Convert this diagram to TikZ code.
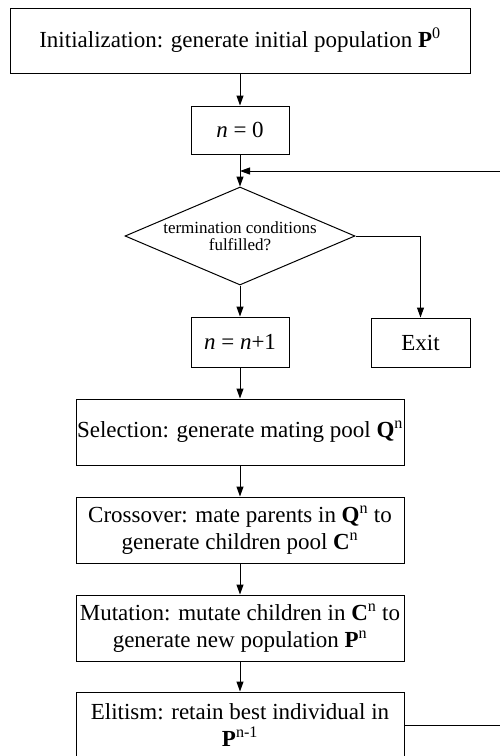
\documentclass[tikz,border=0pt]{standalone}
\usepackage{fontspec}
\setmainfont{Liberation Serif}
\usepackage{tikz}
\usetikzlibrary{arrows.meta,positioning,shapes.geometric}

\begin{document}
\begin{tikzpicture}[x=1pt,y=-1pt,
  box/.style={rectangle,draw,line width=1pt,inner sep=0pt,align=center,
    font=\fontsize{23}{27}\selectfont},
  cond/.style={diamond,draw,line width=1pt,inner sep=-1pt,shape aspect=2.35,
    minimum width=230pt,minimum height=98pt,align=center,
    font=\fontsize{17}{17}\selectfont},
  arr/.style={-{Triangle[length=10pt,width=7pt]},line width=1pt}]
  \useasboundingbox (0,0) rectangle (500,756);
  \clip (0,0) rectangle (500,756);
  \node[box,minimum width=460pt,minimum height=65pt] (init) at (240,40.5)
    {Initialization: generate initial population \textbf{P}\textsuperscript{0}};
  \node[box,minimum width=98pt,minimum height=48pt] (n0) at (240,130)
    {\textit{n} = 0};
  \node[cond] (term) at (240,236) {termination conditions\\fulfilled?};
  \node[box,minimum width=98pt,minimum height=50pt] (inc) at (240,342)
    {\textit{n} = \textit{n}+1};
  \node[box,minimum width=99pt,minimum height=49pt] (exit) at (420.5,342.5) {Exit};
  \node[box,minimum width=328pt,minimum height=66pt] (sel) at (240,432)
    {Selection: generate mating pool \textbf{Q}\textsuperscript{n}};
  \node[box,minimum width=328pt,minimum height=66pt] (cross) at (240,530)
    {Crossover: mate parents in \textbf{Q}\textsuperscript{n} to\\
     generate children pool \textbf{C}\textsuperscript{n}};
  \node[box,minimum width=328pt,minimum height=66pt] (mut) at (240,628)
    {Mutation: mutate children in \textbf{C}\textsuperscript{n} to\\
     generate new population \textbf{P}\textsuperscript{n}};
  \node[box,minimum width=328pt,minimum height=66pt] (elit) at (240,725)
    {Elitism: retain best individual in\\
     \textbf{P}\textsuperscript{n-1}};
  \coordinate (join) at (240,171);
  \coordinate (loop) at (520,171);
  % main flow
  \draw[arr] (init) -- (n0);
  \draw[arr] (n0) -- (term);
  \draw[arr] (term) -- (inc);
  \draw[arr] (term.east) -| (exit);
  \draw[arr] (inc) -- (sel);
  \draw[arr] (sel) -- (cross);
  \draw[arr] (cross) -- (mut);
  \draw[arr] (mut) -- (elit);
  % back to the test
  \draw[arr] (elit.east) -| (loop) -- (join);
\end{tikzpicture}
\end{document}
